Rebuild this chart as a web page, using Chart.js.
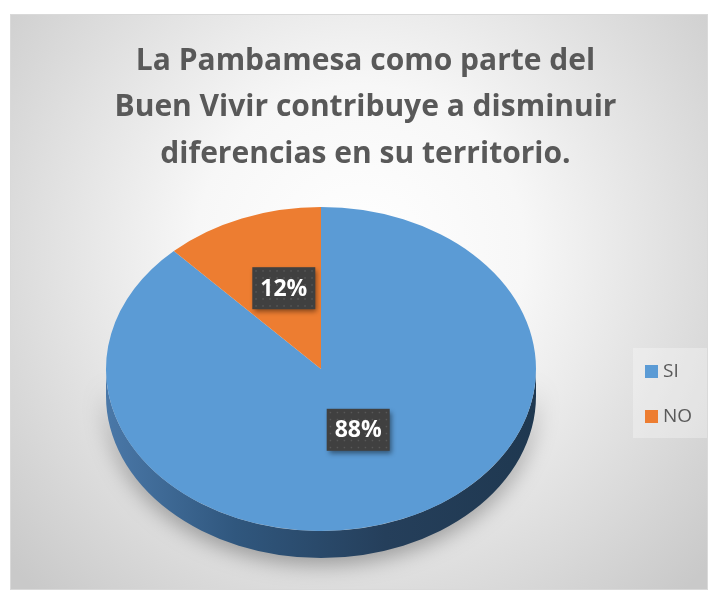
<!DOCTYPE html>
<html>
<head>
<meta charset="utf-8">
<script src="https://cdn.jsdelivr.net/npm/chart.js@4.4.1/dist/chart.umd.min.js"></script>
<style>
  html, body { margin: 0; padding: 0; background: #ffffff; }
  #wrap { width: 711px; height: 603px; }
</style>
</head>
<body>
<div id="wrap"><canvas id="pie-chart" width="711" height="603"></canvas></div>
<script>
// Chart data
const categories = ['SI', 'NO'];
const values = [88, 12];
const sliceColors = ['#5b9bd5', '#ed7d31'];
const titleLines = [
    'La Pambamesa como parte del',
    'Buen Vivir contribuye a disminuir',
    'diferencias en su territorio.'
];

// Where the tilted pie sits on the page
const PIE_X = 321, PIE_Y = 369, RX = 215, RY = 162, DEPTH = 27;
const LABEL_Y = 359, LABEL_POS = 0.47;

// Draws the frame, the 3D tilt, the labels and the legend
const tiltPlugin = {
    id: 'tilt',
    beforeDraw(chart) {
        const ctx = chart.ctx;
        ctx.save();
        const g = ctx.createRadialGradient(360, 250, 0, 360, 250, 470);
        g.addColorStop(0, '#ffffff');
        g.addColorStop(0.35, '#f7f7f7');
        g.addColorStop(1, '#c9c9c9');
        ctx.fillStyle = g;
        ctx.fillRect(10, 14, 698, 576);
        ctx.strokeStyle = '#d9d9d9';
        ctx.lineWidth = 1;
        ctx.strokeRect(10.5, 14.5, 697, 575);
        ctx.restore();
    },
    beforeDatasetsDraw(chart) {
        const ctx = chart.ctx;
        const meta = chart.getDatasetMeta(0);
        const first = meta.data[0];
        const cx = first.x, cy = first.y, r = first.outerRadius;

        // side wall of the pie (only the front half shows)
        ctx.save();
        ctx.shadowColor = 'rgba(0,0,0,0.35)';
        ctx.shadowBlur = 22;
        ctx.shadowOffsetY = 6;
        meta.data.forEach((arc, i) => {
            let a0 = Math.max(arc.startAngle, 0);
            let a1 = Math.min(arc.endAngle, Math.PI);
            if (a1 <= a0) return;
            const side = ctx.createLinearGradient(PIE_X - RX, 0, PIE_X + RX, 0);
            if (i === 0) {
                side.addColorStop(0, '#4a78a8');
                side.addColorStop(0.3, '#30577e');
                side.addColorStop(0.65, '#253f5b');
                side.addColorStop(1, '#1f3850');
            } else {
                side.addColorStop(0, '#b85e22');
                side.addColorStop(1, '#8f4718');
            }
            ctx.beginPath();
            ctx.ellipse(PIE_X, PIE_Y, RX, RY, 0, a0, a1);
            ctx.ellipse(PIE_X, PIE_Y + DEPTH, RX, RY, 0, a1, a0, true);
            ctx.closePath();
            ctx.fillStyle = side;
            ctx.fill();
        });
        ctx.restore();

        // squash the top face
        const s = RX / r;
        ctx.save();
        ctx.translate(PIE_X, PIE_Y);
        ctx.scale(s, s * RY / RX);
        ctx.translate(-cx, -cy);
    },
    afterDatasetsDraw(chart) {
        const ctx = chart.ctx;
        ctx.restore();

        const meta = chart.getDatasetMeta(0);
        const total = values.reduce((a, b) => a + b, 0);

        // data labels
        meta.data.forEach((arc, i) => {
            const mid = (arc.startAngle + arc.endAngle) / 2;
            const lx = PIE_X + Math.cos(mid) * RX * LABEL_POS;
            const ly = LABEL_Y + Math.sin(mid) * RY * LABEL_POS;
            const text = Math.round(values[i] / total * 100) + '%';
            ctx.save();
            ctx.shadowColor = 'rgba(0,0,0,0.45)';
            ctx.shadowBlur = 5;
            ctx.shadowOffsetX = 2;
            ctx.shadowOffsetY = 3;
            ctx.fillStyle = '#404040';
            ctx.fillRect(lx - 31.5, ly - 21, 63, 42);
            ctx.restore();
            ctx.save();
            ctx.fillStyle = 'rgba(255,255,255,0.13)';
            for (let dx = 3; dx < 63; dx += 7) {
                for (let dy = 3; dy < 42; dy += 7) {
                    ctx.fillRect(lx - 31.5 + dx, ly - 21 + dy, 1.5, 1.5);
                }
            }
            ctx.fillStyle = '#ffffff';
            ctx.font = 'bold 23px "Open Sans"';
            ctx.textAlign = 'center';
            ctx.textBaseline = 'middle';
            ctx.fillText(text, lx, ly + 1);
            ctx.restore();
        });

        // legend
        ctx.save();
        ctx.fillStyle = 'rgba(255,255,255,0.3)';
        ctx.fillRect(633, 348, 74, 90);
        ctx.font = '19px "Open Sans"';
        ctx.textBaseline = 'middle';
        categories.forEach((label, i) => {
            const y = 371 + i * 45;
            ctx.fillStyle = sliceColors[i];
            ctx.fillRect(645, y - 6, 13, 13);
            ctx.fillStyle = '#595959';
            ctx.fillText(label, 663, y + 1);
        });
        ctx.restore();
    }
};

const pieChart = new Chart(document.getElementById('pie-chart').getContext('2d'), {
    type: 'pie',
    data: {
        labels: categories,
        datasets: [{
            data: values,
            backgroundColor: sliceColors,
            borderWidth: 0
        }]
    },
    options: {
        responsive: false,
        animation: false,
        events: [],
        layout: { padding: { left: 20, right: 0, top: 14, bottom: 14 } },
        plugins: {
            legend: { display: false },
            tooltip: { enabled: false },
            title: {
                display: true,
                text: titleLines,
                color: '#595959',
                font: { family: '"Open Sans"', size: 30, weight: 'bold', lineHeight: 1.55 },
                padding: { top: 24, bottom: 10 }
            }
        }
    },
    plugins: [tiltPlugin]
});
</script>
</body>
</html>
